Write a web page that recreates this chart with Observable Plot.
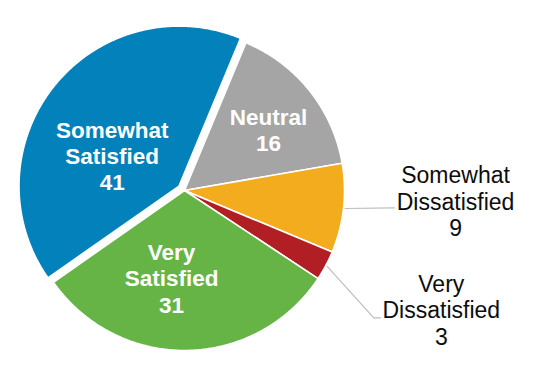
<!DOCTYPE html>
<html><head><meta charset="utf-8">
<script src="https://cdn.jsdelivr.net/npm/d3@7"></script>
<script src="https://cdn.jsdelivr.net/npm/@observablehq/plot@0.6"></script>
<style>body{margin:0;background:#fff}</style>
</head><body><div id="chart"></div>
<script>
// ---- data ----
const categories = ["Neutral", "Somewhat Dissatisfied", "Very Dissatisfied", "Very Satisfied", "Somewhat Satisfied"];
const labelLines = ["Neutral", "Somewhat\nDissatisfied", "Very\nDissatisfied", "Very\nSatisfied", "Somewhat\nSatisfied"];
const values = [16, 9, 3, 31, 41];
const colors = ["#A5A5A5", "#F2AC1E", "#B11F25", "#66B446", "#0381BA"];

// ---- layout ----
const W = 534, H = 380, R = 160, cx = 184, cy = 190;
const startDeg = 22.6;
const explode = [0, 0, 0, 0, 0.044];
const inside = [true, false, false, true, true];
// label centres in pie units (1 = radius)
const labelPos = [[0.525, 0.381], [1.694, -0.067], [1.605, -0.747], [-0.081, -0.547], [-0.452, 0.219]];
// leader elbows/ends for outside labels
const leaderPts = {1: [[1.3125, -0.108]], 2: [[1.183, -0.796], [1.225, -0.796]]};

const total = d3.sum(values);
const rad = d => d * Math.PI / 180;
let acc = startDeg;
const slices = values.map((v, i) => {
  const a0 = acc, a1 = acc + v / total * 360; acc = a1;
  return {i, a0, a1, mid: (a0 + a1) / 2};
});

const polyPts = [];
slices.forEach(s => {
  const m = rad(s.mid), e = explode[s.i];
  const ox = e * Math.sin(m), oy = e * Math.cos(m);
  const key = categories[s.i];
  polyPts.push({key, x: ox, y: oy});
  const n = Math.max(4, Math.ceil((s.a1 - s.a0) / 0.5));
  for (let k = 0; k <= n; k++) {
    const a = rad(s.a0 + (s.a1 - s.a0) * k / n);
    polyPts.push({key, x: ox + Math.sin(a), y: oy + Math.cos(a)});
  }
  polyPts.push({key, x: ox, y: oy});
});

const textRows = slices.map(s => ({
  key: categories[s.i],
  text: labelLines[s.i] + "\n" + values[s.i],
  x: labelPos[s.i][0], y: labelPos[s.i][1],
  inside: inside[s.i]
}));

const leaders = [];
Object.keys(leaderPts).forEach(k => {
  const s = slices[+k], m = rad(s.mid);
  leaders.push({key: k, x: 1.01 * Math.sin(m), y: 1.01 * Math.cos(m)});
  leaderPts[k].forEach(p => leaders.push({key: k, x: p[0], y: p[1]}));
});

const font = "'Liberation Sans', Arial, Helvetica, sans-serif";
const chart = Plot.plot({
  width: W, height: H, margin: 0,
  x: {domain: [-cx / R, (W - cx) / R], range: [0, W], axis: null},
  y: {domain: [-(H - cy) / R, cy / R], range: [H, 0], axis: null},
  color: {domain: categories, range: colors},
  style: {fontFamily: font, background: "#fff"},
  marks: [
    Plot.line(polyPts, {x: "x", y: "y", z: "key", fill: "key", stroke: "white", strokeWidth: 1.6, strokeLinejoin: "round"}),
    Plot.line(leaders, {x: "x", y: "y", z: "key", stroke: "#BDBDBD", strokeWidth: 1.2}),
    Plot.text(textRows.filter(d => d.inside), {x: "x", y: "y", text: "text", fill: "white", fontWeight: "bold", fontSize: 22.5, lineHeight: 1.17, fontFamily: font}),
    Plot.text(textRows.filter(d => !d.inside), {x: "x", y: "y", text: "text", fill: "#0d0d0d", fontSize: 23, lineHeight: 1.15, fontFamily: font})
  ]
});
document.getElementById("chart").appendChild(chart);
</script>
</body></html>
